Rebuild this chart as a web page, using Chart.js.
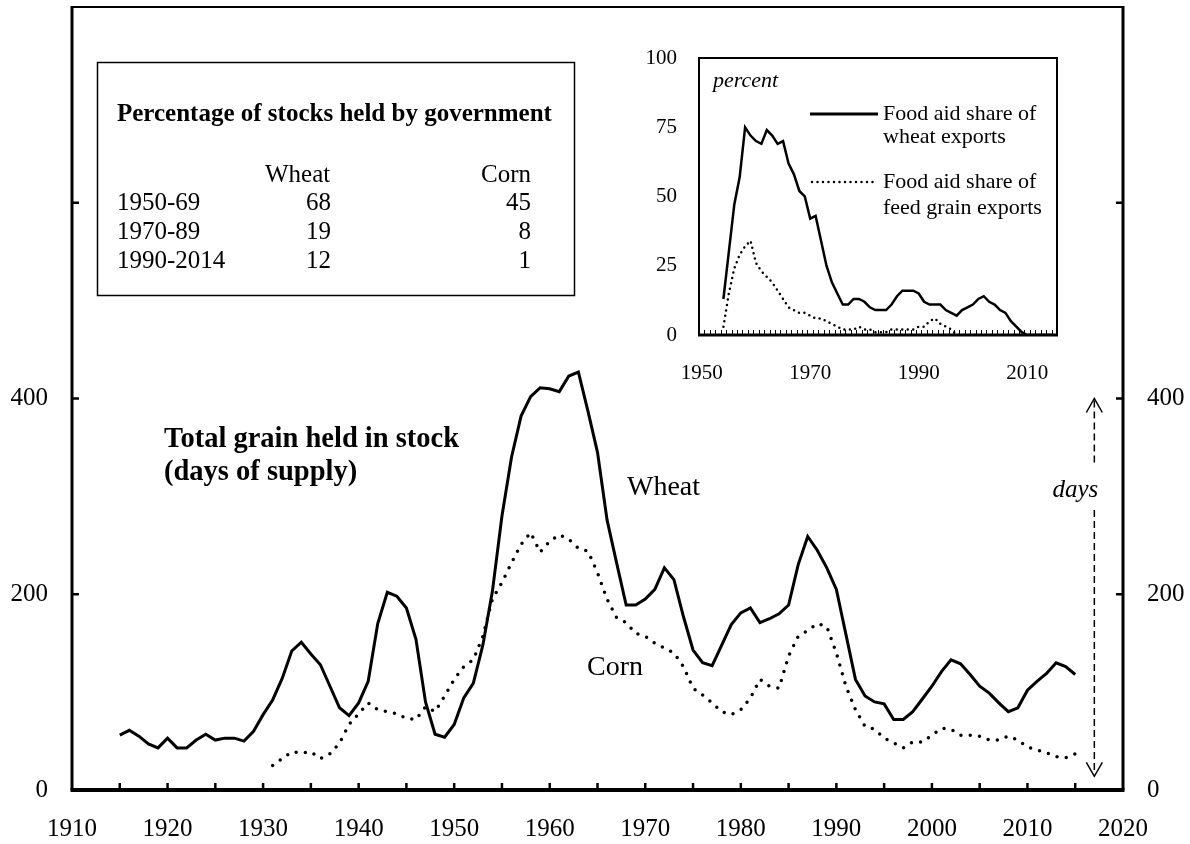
<!DOCTYPE html>
<html><head><meta charset="utf-8">
<script src="https://cdn.jsdelivr.net/npm/chart.js@4.4.0/dist/chart.umd.min.js"></script>
<style>
html,body{margin:0;padding:0;background:#fff;}
#wrap{position:relative;width:1190px;height:844px;overflow:hidden;}
#main{position:absolute;left:0;top:0;}
#inset{position:absolute;left:600px;top:40px;}
</style></head><body>
<div id="wrap">
<canvas id="main" width="1190" height="844"></canvas>
<canvas id="inset" width="480" height="360"></canvas>
</div>
<script>
// ---------- Main chart data: days of supply held in stock ----------
const stockYears = [1915,1916,1917,1918,1919,1920,1921,1922,1923,1924,1925,1926,1927,1928,1929,
  1930,1931,1932,1933,1934,1935,1936,1937,1938,1939,1940,1941,1942,1943,1944,1945,1946,1947,1948,1949,
  1950,1951,1952,1953,1954,1955,1956,1957,1958,1959,1960,1961,1962,1963,1964,1965,1966,1967,1968,1969,
  1970,1971,1972,1973,1974,1975,1976,1977,1978,1979,1980,1981,1982,1983,1984,1985,1986,1987,1988,1989,
  1990,1991,1992,1993,1994,1995,1996,1997,1998,1999,2000,2001,2002,2003,2004,2005,2006,2007,2008,2009,
  2010,2011,2012,2013,2014,2015];
const wheatDays = [56,61,55,47,43,53,43,43,51,57,51,53,53,50,60,
  77,92,114,142,151,139,128,106,84,76,89,111,170,202,198,186,154,90,57,54,
  67,94,109,148,203,280,340,382,402,411,410,407,423,427,387,345,276,232,189,189,
  195,205,227,215,177,143,130,127,148,169,181,186,171,175,180,189,230,259,245,227,
  205,159,113,96,90,88,72,72,80,93,106,121,133,129,118,106,99,89,80,84,
  102,111,119,130,126,118];
const cornYears = [1931,1932,1933,1934,1935,1936,1937,1938,1939,1940,1941,1942,1943,1944,1945,1946,1947,1948,1949,
  1950,1951,1952,1953,1954,1955,1956,1957,1958,1959,1960,1961,1962,1963,1964,1965,1966,1967,1968,1969,
  1970,1971,1972,1973,1974,1975,1976,1977,1978,1979,1980,1981,1982,1983,1984,1985,1986,1987,1988,1989,
  1990,1991,1992,1993,1994,1995,1996,1997,1998,1999,2000,2001,2002,2003,2004,2005,2006,2007,2008,2009,
  2010,2011,2012,2013,2014,2015];
const cornDays = [25,32,39,38,39,32,37,48,67,78,89,82,80,78,73,72,85,80,96,
  113,126,133,157,195,212,232,251,263,243,254,261,256,247,244,222,195,176,171,160,
  157,150,145,140,126,104,97,89,80,77,82,94,113,106,104,137,157,163,170,167,
  140,106,82,65,62,53,48,43,49,49,56,63,62,56,56,55,51,51,55,51,
  44,41,38,34,33,37];
const dayTickLabels = [0, 200, 400];

// ---------- Inset data: food aid share of exports (percent) ----------
const aidYears = [1950,1951,1952,1953,1954,1955,1956,1957,1958,1959,1960,1961,1962,1963,1964,1965,1966,1967,1968,1969,
  1970,1971,1972,1973,1974,1975,1976,1977,1978,1979,1980,1981,1982,1983,1984,1985,1986,1987,1988,1989,
  1990,1991,1992,1993,1994,1995,1996,1997,1998,1999,2000,2001,2002,2003,2004,2005,2006,2007,2008,2009,
  2010,2011,2012,2013,2014,2015];
const wheatAidShare = [null,null,null,null,13,30,47,57,75,72,70,69,74,72,69,70,62,58,52,50,
  42,43,34,25,19,15,11,11,13,13,12,10,9,9,9,11,14,16,16,16,
  15,12,11,11,11,9,8,7,9,10,11,13,14,12,11,9,8,5,3,1,
  0,0,0,0,0,0];
const feedAidShare = [null,null,null,null,3,15,24,29,32,34,26,23,21,19,16,13,10,9,8,8,
  7,6,6,5,4,3,2,2,2,3,2,2,1,1,1,2,2,2,2,2,
  3,3,5,6,4,3,2,0,0,0,0,0,0,0,0,0,0,0,0,0,
  0,0,0,0,0,0];
const insetYearLabels = ['1950','1970','1990','2010'];

// ---------- Table ----------
const tableTitle = 'Percentage of stocks held by government';
const tableHeaders = ['Wheat', 'Corn'];
const tablePeriods = ['1950-69', '1970-89', '1990-2014'];
const tableWheat = [68, 19, 12];
const tableCorn = [45, 8, 1];

const SERIF = '"Liberation Serif", "Times New Roman", serif';
Chart.defaults.font.family = SERIF;
Chart.defaults.color = '#000';

function seg(ctx, x1, y1, x2, y2) { ctx.moveTo(x1, y1); ctx.lineTo(x2, y2); }
function noPad(s) { s.paddingTop = 0; s.paddingBottom = 0; s.paddingLeft = 0; s.paddingRight = 0; }

const mainDecor = {
  id: 'mainDecor',
  afterDraw(chart) {
    const {ctx, chartArea: a, scales: {x, y}} = chart;
    ctx.save();
    ctx.strokeStyle = '#000';
    ctx.fillStyle = '#000';
    // inward tick marks
    ctx.lineWidth = 2.5;
    ctx.beginPath();
    for (let yr = x.min + 5; yr < x.max; yr += 5) {
      const px = x.getPixelForValue(yr);
      seg(ctx, px, a.bottom, px, a.bottom - 7);
    }
    for (let v = 200; v < y.max; v += 200) {
      const py = y.getPixelForValue(v);
      seg(ctx, a.left, py, a.left + 7, py);
      seg(ctx, a.right, py, a.right - 7, py);
    }
    ctx.stroke();
    // frame
    ctx.lineJoin = 'miter';
    ctx.lineWidth = 2;
    ctx.beginPath(); seg(ctx, a.left, a.top, a.right, a.top); ctx.stroke();
    ctx.lineWidth = 3;
    ctx.beginPath(); seg(ctx, a.left, a.top - 1, a.left, a.bottom); seg(ctx, a.right, a.top - 1, a.right, a.bottom); ctx.stroke();
    ctx.lineWidth = 4;
    ctx.beginPath(); seg(ctx, a.left - 1.5, a.bottom, a.right + 1.5, a.bottom); ctx.stroke();

    // "days" double arrow
    const ax = x.getPixelForValue(2017);
    const atop = y.getPixelForValue(400);
    const abot = y.getPixelForValue(14);
    ctx.lineWidth = 1.5;
    ctx.setLineDash([7, 4]);
    ctx.beginPath();
    seg(ctx, ax, atop + 2, ax, 465);
    seg(ctx, ax, 510, ax, abot - 2);
    ctx.stroke();
    ctx.setLineDash([]);
    ctx.beginPath();
    ctx.moveTo(ax - 8, atop + 14); ctx.lineTo(ax, atop); ctx.lineTo(ax + 8, atop + 14);
    ctx.moveTo(ax - 8, abot - 14); ctx.lineTo(ax, abot); ctx.lineTo(ax + 8, abot - 14);
    ctx.stroke();
    ctx.font = 'italic 25px ' + SERIF;
    ctx.textAlign = 'right';
    ctx.textBaseline = 'alphabetic';
    ctx.fillText('days', ax + 4, 497);

    // titles and series labels
    ctx.textAlign = 'left';
    ctx.font = 'bold 28.5px ' + SERIF;
    ctx.fillText('Total grain held in stock', 164, 447);
    ctx.fillText('(days of supply)', 164, 480);
    ctx.font = '28px ' + SERIF;
    ctx.fillText('Wheat', 627, 495);
    ctx.fillText('Corn', 587, 675);

    // table
    ctx.lineWidth = 1.5;
    ctx.strokeRect(97.5, 62.5, 477, 233);
    ctx.font = 'bold 25px ' + SERIF;
    ctx.fillText(tableTitle, 117, 121);
    ctx.font = '25px ' + SERIF;
    ctx.textAlign = 'left';
    ctx.fillText(tableHeaders[0], 265, 182);
    ctx.textAlign = 'right';
    ctx.fillText(tableHeaders[1], 531, 182);
    for (let i = 0; i < tablePeriods.length; i++) {
      const by = 210 + i * 29;
      ctx.textAlign = 'left';
      ctx.fillText(tablePeriods[i], 117, by);
      ctx.textAlign = 'right';
      ctx.fillText(String(tableWheat[i]), 331, by);
      ctx.fillText(String(tableCorn[i]), 531, by);
    }
    ctx.restore();
  }
};

new Chart(document.getElementById('main'), {
  type: 'line',
  data: {
    datasets: [
      { label: 'Wheat', data: stockYears.map((yr, i) => ({x: yr, y: wheatDays[i]})),
        borderColor: '#000', borderWidth: 3, pointRadius: 0, tension: 0, fill: false },
      { label: 'Corn', data: cornYears.map((yr, i) => ({x: yr, y: cornDays[i]})),
        borderColor: '#000', borderWidth: 3.5, borderDash: [0, 9.3], borderCapStyle: 'round',
        pointRadius: 0, tension: 0, fill: false }
    ]
  },
  options: {
    responsive: false, animation: false, events: [],
    layout: {padding: {top: 7, left: 0, right: 0, bottom: 0}},
    plugins: {legend: {display: false}, tooltip: {enabled: false}},
    scales: {
      x: {type: 'linear', min: 1910, max: 2020,
        grid: {display: false, drawTicks: false}, border: {display: false},
        ticks: {stepSize: 10, padding: 24, font: {size: 25}, color: '#000', maxRotation: 0, autoSkip: false,
          callback: v => String(v)},
        afterFit(s) { s.height = 54; noPad(s); }},
      y: {position: 'left', min: 0, max: 800,
        grid: {display: false, drawTicks: false}, border: {display: false},
        ticks: {stepSize: 200, padding: 24, font: {size: 25}, color: '#000',
          callback: v => dayTickLabels.includes(v) ? String(v) : ''},
        afterFit(s) { s.width = 72; noPad(s); }},
      y2: {position: 'right', min: 0, max: 800,
        grid: {display: false, drawTicks: false}, border: {display: false},
        ticks: {stepSize: 200, padding: 24, font: {size: 25}, color: '#000',
          callback: v => dayTickLabels.includes(v) ? String(v) : ''},
        afterFit(s) { s.width = 67; noPad(s); }}
    }
  },
  plugins: [mainDecor]
});

const insetDecor = {
  id: 'insetDecor',
  beforeDraw(chart) {
    const {ctx, chartArea: a} = chart;
    ctx.save();
    ctx.fillStyle = '#fff';
    ctx.fillRect(a.left, a.top, a.right - a.left, a.bottom - a.top);
    ctx.restore();
  },
  afterDraw(chart) {
    const {ctx, chartArea: a, scales: {x}} = chart;
    ctx.save();
    ctx.strokeStyle = '#000';
    ctx.fillStyle = '#000';
    // yearly ticks at category boundaries
    const step = x.getPixelForValue(1) - x.getPixelForValue(0);
    ctx.lineWidth = 1;
    ctx.beginPath();
    for (let i = 0; i <= aidYears.length; i++) {
      const px = Math.round(x.getPixelForValue(0) - step / 2 + i * step) + 0.5;
      seg(ctx, px, a.bottom, px, a.bottom - 5);
    }
    ctx.stroke();
    // frame
    ctx.lineWidth = 2;
    ctx.strokeRect(a.left, a.top, a.right - a.left, a.bottom - a.top);
    ctx.lineWidth = 3;
    ctx.beginPath(); seg(ctx, a.left - 1, a.bottom, a.right + 1, a.bottom); ctx.stroke();
    // "percent"
    ctx.font = 'italic 22px ' + SERIF;
    ctx.textAlign = 'left';
    ctx.textBaseline = 'alphabetic';
    ctx.fillText('percent', a.left + 14, a.top + 29);
    // legend
    const lx1 = a.left + 111, lx2 = a.left + 179, tx = a.left + 184;
    ctx.lineWidth = 3;
    ctx.beginPath(); seg(ctx, lx1, a.top + 56, lx2, a.top + 56); ctx.stroke();
    ctx.lineWidth = 2.5;
    ctx.lineCap = 'round';
    ctx.setLineDash([0, 5.5]);
    ctx.beginPath(); seg(ctx, lx1 + 2, a.top + 124, lx2, a.top + 124); ctx.stroke();
    ctx.setLineDash([]);
    ctx.font = '22px ' + SERIF;
    ctx.textBaseline = 'middle';
    ctx.fillText('Food aid share of', tx, a.top + 56);
    ctx.fillText('wheat exports', tx, a.top + 79);
    ctx.fillText('Food aid share of', tx, a.top + 124);
    ctx.fillText('feed grain exports', tx, a.top + 150);
    ctx.restore();
  }
};

new Chart(document.getElementById('inset'), {
  type: 'line',
  data: {
    labels: aidYears.map(String),
    datasets: [
      { label: 'Food aid share of wheat exports', data: wheatAidShare,
        borderColor: '#000', borderWidth: 2.5, pointRadius: 0, tension: 0, fill: false, spanGaps: false },
      { label: 'Food aid share of feed grain exports', data: feedAidShare,
        borderColor: '#000', borderWidth: 2.5, borderDash: [0, 5.5], borderCapStyle: 'round',
        pointRadius: 0, tension: 0, fill: false }
    ]
  },
  options: {
    responsive: false, animation: false, events: [],
    layout: {padding: {top: 18, right: 23, left: 0, bottom: 0}},
    plugins: {legend: {display: false}, tooltip: {enabled: false}},
    scales: {
      x: {type: 'category', offset: true,
        grid: {display: false, drawTicks: false}, border: {display: false},
        ticks: {autoSkip: false, maxRotation: 0, minRotation: 0, padding: 26, font: {size: 21}, color: '#000',
          callback(v) { const l = this.getLabelForValue(v); return insetYearLabels.includes(l) ? l : ''; }},
        afterFit(s) { s.height = 65; noPad(s); }},
      y: {min: 0, max: 100,
        grid: {display: false, drawTicks: false}, border: {display: false},
        ticks: {stepSize: 25, padding: 22, font: {size: 21}, color: '#000'},
        afterFit(s) { s.width = 99; noPad(s); }}
    }
  },
  plugins: [insetDecor]
});
</script>
</body></html>
